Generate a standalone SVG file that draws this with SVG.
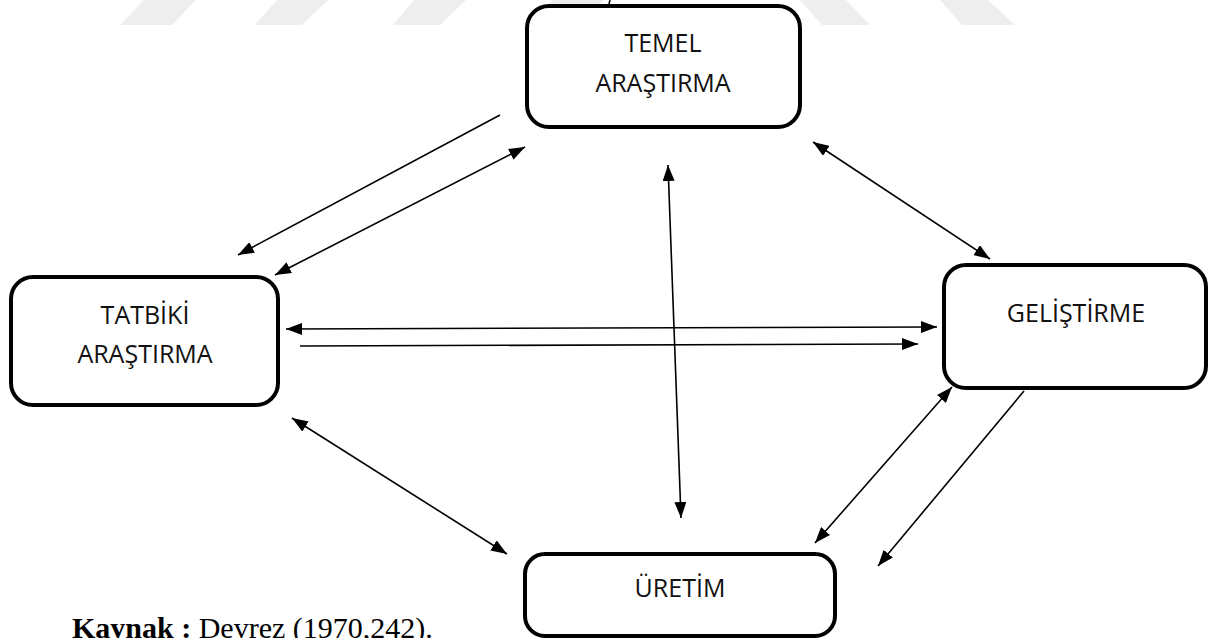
<svg xmlns="http://www.w3.org/2000/svg" width="1213" height="638" viewBox="0 0 1213 638">
<style>
.bg{fill:#ffffff}
.wm{fill:#eeeeee}
.box{fill:#ffffff;stroke:#000000;stroke-width:4}
.lbl{font-family:"Open Sans","Liberation Sans",sans-serif;font-size:25px;fill:#111111;text-anchor:middle}
.cn{fill:none;stroke:#000000;stroke-width:1.6}
.cap{font-family:"Liberation Serif","Times New Roman",serif;font-size:30px;fill:#000000}
</style>
<defs>
<marker id="ah" viewBox="0 0 16 12" refX="16" refY="6" markerWidth="16" markerHeight="12" markerUnits="userSpaceOnUse" orient="auto-start-reverse">
<path d="M0,0 L16,6 L0,12 Z" fill="#000000"/>
</marker>
</defs>
<rect class="bg" x="0" y="0" width="1213" height="638"/>
<g id="watermark">
<polygon class="wm" points="144,0 196,0 172,25 120,25"/>
<polygon class="wm" points="277,0 328,0 302,25 255,25"/>
<polygon class="wm" points="414,0 466,0 440,25 393,25"/>
<polygon class="wm" points="552,0 604,0 578,25 531,25"/>
<polygon class="wm" points="800,0 846,0 870,25 822,25"/>
<polygon class="wm" points="940,0 988,0 1015,25 962,25"/>
</g>
<path d="M610,0 L609,4" stroke="#000000" stroke-width="1.5"/>
<g id="connectors">
<path class="cn" d="M500,115 L238,255" marker-end="url(#ah)"/>
<path class="cn" d="M275,275 L525,147" marker-start="url(#ah)" marker-end="url(#ah)"/>
<path class="cn" d="M813,142 L990,259" marker-start="url(#ah)" marker-end="url(#ah)"/>
<path class="cn" d="M668,165 L681,518" marker-start="url(#ah)" marker-end="url(#ah)"/>
<path class="cn" d="M286,329 L937,327" marker-start="url(#ah)" marker-end="url(#ah)"/>
<path class="cn" d="M300,346 L918,344" marker-end="url(#ah)"/>
<path class="cn" d="M292,418 L507,554" marker-start="url(#ah)" marker-end="url(#ah)"/>
<path class="cn" d="M952,387 L815,543" marker-start="url(#ah)" marker-end="url(#ah)"/>
<path class="cn" d="M1024,391 L878,566" marker-end="url(#ah)"/>
</g>
<g id="node-temel">
<rect class="box" x="527" y="6" width="273" height="121" rx="22"/>
<text class="lbl" x="663" y="52">TEMEL</text>
<text class="lbl" x="663" y="92">ARAŞTIRMA</text>
</g>
<g id="node-tatbiki">
<rect class="box" x="11" y="277" width="267" height="128" rx="22"/>
<text class="lbl" x="145" y="324">TATBİKİ</text>
<text class="lbl" x="145" y="363">ARAŞTIRMA</text>
</g>
<g id="node-gelistirme">
<rect class="box" x="944" y="265" width="262" height="123" rx="22"/>
<text class="lbl" x="1076" y="322">GELİŞTİRME</text>
</g>
<g id="node-uretim">
<rect class="box" x="525" y="554" width="310" height="82" rx="20"/>
<text class="lbl" x="680" y="597">ÜRETİM</text>
</g>
<text class="cap" x="72" y="638"><tspan font-weight="bold">Kaynak :</tspan> Devrez (1970,242).</text>
</svg>
